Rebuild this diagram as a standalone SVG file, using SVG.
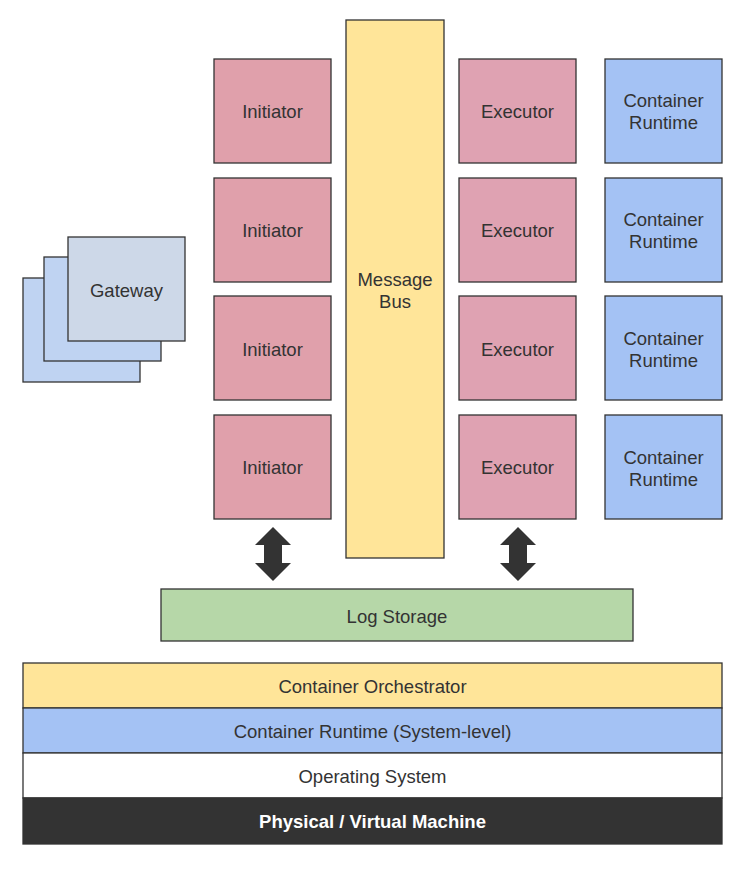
<svg xmlns="http://www.w3.org/2000/svg" width="749" height="871" viewBox="0 0 749 871">
<style>
text{font-family:"Liberation Sans",Arial,sans-serif;font-size:18.5px;fill:#333;text-anchor:middle;dominant-baseline:central}
.b{stroke:#333;stroke-width:1.3}
.ini{fill:#e0a0ab}
.exe{fill:#dfa2b2}
.cr{fill:#a4c2f4}
.gw{fill:#bfd3f2}
.gwf{fill:#cdd8e8}
</style>
<rect width="749" height="871" fill="#fff"/>
<g id="gateway">
<rect class="b gw" x="23" y="278" width="117" height="104"/>
<rect class="b gw" x="44" y="257" width="117" height="104"/>
<rect class="b gwf" x="68" y="237" width="117" height="104"/>
<text x="126.5" y="290">Gateway</text>
</g>
<g id="initiator1"><rect class="b ini" x="214" y="59" width="117" height="104"/><text x="272.5" y="111">Initiator</text></g>
<g id="initiator2"><rect class="b ini" x="214" y="178" width="117" height="104"/><text x="272.5" y="230">Initiator</text></g>
<g id="initiator3"><rect class="b ini" x="214" y="296" width="117" height="104"/><text x="272.5" y="349">Initiator</text></g>
<g id="initiator4"><rect class="b ini" x="214" y="415" width="117" height="104"/><text x="272.5" y="467">Initiator</text></g>
<g id="messagebus"><rect class="b" fill="#ffe599" x="346" y="20" width="98" height="538"/><text x="395" y="279">Message</text><text x="395" y="301">Bus</text></g>
<g id="executor1"><rect class="b exe" x="459" y="59" width="117" height="104"/><text x="517.5" y="111">Executor</text></g>
<g id="executor2"><rect class="b exe" x="459" y="178" width="117" height="104"/><text x="517.5" y="230">Executor</text></g>
<g id="executor3"><rect class="b exe" x="459" y="296" width="117" height="104"/><text x="517.5" y="349">Executor</text></g>
<g id="executor4"><rect class="b exe" x="459" y="415" width="117" height="104"/><text x="517.5" y="467">Executor</text></g>
<g id="runtime1"><rect class="b cr" x="605" y="59" width="117" height="104"/><text x="663.5" y="100">Container</text><text x="663.5" y="122">Runtime</text></g>
<g id="runtime2"><rect class="b cr" x="605" y="178" width="117" height="104"/><text x="663.5" y="219">Container</text><text x="663.5" y="241">Runtime</text></g>
<g id="runtime3"><rect class="b cr" x="605" y="296" width="117" height="104"/><text x="663.5" y="338">Container</text><text x="663.5" y="360">Runtime</text></g>
<g id="runtime4"><rect class="b cr" x="605" y="415" width="117" height="104"/><text x="663.5" y="457">Container</text><text x="663.5" y="479">Runtime</text></g>
<g id="connectors" fill="#333">
<polygon points="273,527 291,545 282,545 282,563 291,563 273,581 255,563 264,563 264,545 255,545"/>
<polygon points="518,527 536,545 527,545 527,563 536,563 518,581 500,563 509,563 509,545 500,545"/>
</g>
<g id="logstorage"><rect class="b" fill="#b6d7a8" x="161" y="589" width="472" height="52"/><text x="397" y="616">Log Storage</text></g>
<g id="orchestrator"><rect class="b" fill="#ffe599" x="23" y="663" width="699" height="45"/><text x="372.5" y="686">Container Orchestrator</text></g>
<g id="sysruntime"><rect class="b" fill="#a4c2f4" x="23" y="708" width="699" height="45"/><text x="372.5" y="731">Container Runtime (System-level)</text></g>
<g id="os"><rect class="b" fill="#fff" x="23" y="753" width="699" height="45"/><text x="372.5" y="776">Operating System</text></g>
<g id="machine"><rect class="b" fill="#333" x="23" y="798" width="699" height="46"/><text x="372.5" y="821" style="fill:#fff;font-weight:bold">Physical / Virtual Machine</text></g>
</svg>
